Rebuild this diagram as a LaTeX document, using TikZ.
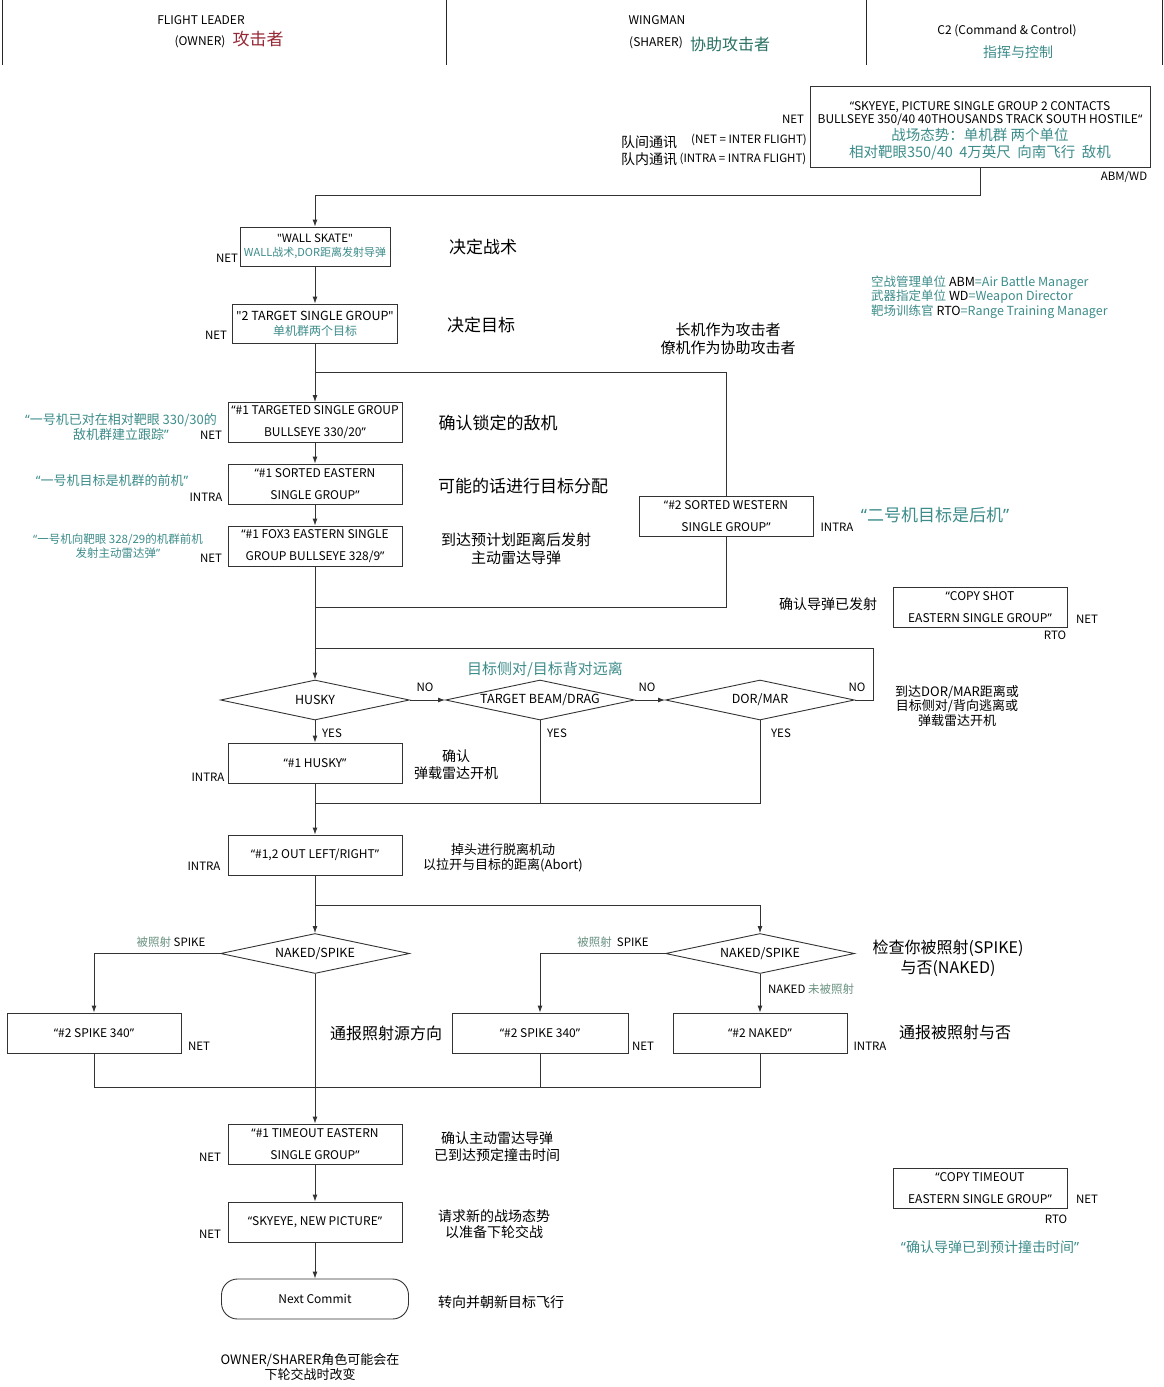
\documentclass[tikz,border=0pt]{standalone}
\usepackage{fontspec}
\setmainfont{Noto Sans CJK SC}
\newfontfamily\qfont{Noto Sans}
\usetikzlibrary{shapes.geometric,arrows.meta,positioning}
\definecolor{tealc}{RGB}{60,140,138}
\definecolor{sage}{RGB}{105,145,128}
\definecolor{ownred}{RGB}{150,40,52}
\definecolor{wingc}{RGB}{40,112,98}
\newcommand\qo{{\qfont “}}
\newcommand\qc{{\qfont ”}}
\newcommand\sq{{\qfont"}}

\begin{document}
\begin{tikzpicture}[x=1pt,y=-1pt]

\tikzset{>={Latex[length=7pt,width=5pt]}}
\tikzstyle{box} = [
	draw=black!80, line width=0.9pt, rectangle, inner sep=0pt,
	minimum width=174, minimum height=40, align=center,
	font=\fontsize{12}{22}\selectfont ];
\tikzstyle{dec} = [
	draw=black!80, line width=0.9pt, diamond, shape aspect=5, inner sep=0pt,
	minimum width=189, minimum height=40, font=\fontsize{12.5}{14}\selectfont ];
\tikzstyle{wire} = [draw=black!80, line width=0.9pt];
\tikzstyle{tagtxt} = [inner sep=0pt, font=\fontsize{11.5}{13}\selectfont];
\tikzstyle{hdtxt} = [inner sep=0pt, font=\fontsize{12}{14}\selectfont];
\tikzstyle{cnbig} = [inner sep=0pt, align=center, font=\fontsize{17}{20}\selectfont];
\tikzstyle{cnmid} = [inner sep=0pt, align=center, font=\fontsize{14}{17}\selectfont];
\tikzstyle{cnsml} = [inner sep=0pt, align=center, font=\fontsize{13}{15}\selectfont];
\tikzstyle{cnteal} = [cnsml, text=tealc];

\useasboundingbox (0,0) rectangle (1164,1387);

% lanes
\foreach \x in {2,446,866,1162}
	\draw[line width=0.8pt, black!85] (\x,0) -- (\x,65);
\node[hdtxt] (lead) at (201,20) {FLIGHT LEADER};
\node[hdtxt] (owner) at (200,42) {(OWNER)};
\node[hdtxt, text=ownred, font=\fontsize{17}{19}\selectfont] (ownercn) at (258,39) {攻击者};
\node[hdtxt] (wing) at (657,20) {WINGMAN};
\node[hdtxt] (sharer) at (656,43) {(SHARER)};
\node[hdtxt, text=wingc, font=\fontsize{16}{18}\selectfont] (sharercn) at (730,44) {协助攻击者};
\node[hdtxt] (ctrl) at (1007,31) {C2 (Command \& Control)};
\node[hdtxt, text=tealc, font=\fontsize{14}{16}\selectfont] (ctrlcn) at (1018,52) {指挥与控制};

% picture call
\node[box, minimum width=340, minimum height=81, font=\fontsize{12}{13}\selectfont] (sky) at (980,127)
	{\rule{0pt}{17pt}\qo SKYEYE, PICTURE SINGLE GROUP 2 CONTACTS\\
	 BULLSEYE 350/40 40THOUSANDS TRACK SOUTH HOSTILE\qo\\[1pt]
	 {\color{tealc}\fontsize{14.5}{17}\selectfont 战场态势：单机群 两个单位}\\[3pt]
	 {\color{tealc}\fontsize{14.5}{17}\selectfont 相对靶眼350/40\ \ 4万英尺\ \ 向南飞行\ \ 敌机}};
\node[tagtxt] (netsky) at (793,119) {NET};
\node[cnmid] (intercn) at (649,142) {队间通讯};
\node[tagtxt] (inter) at (749,140) {(NET = INTER FLIGHT)};
\node[cnmid] (intracn) at (649,159) {队内通讯};
\node[tagtxt] (intra) at (743,159) {(INTRA = INTRA FLIGHT)};
\node[tagtxt] (abmwd) at (1124,177) {ABM/WD};

\node[cnsml, text=tealc, anchor=west, font=\fontsize{12.5}{14}\selectfont] (leg1) at (871,283) {空战管理单位 {\color{black}ABM}=Air Battle Manager};
\node[cnsml, text=tealc, anchor=west, font=\fontsize{12.5}{14}\selectfont] (leg2) at (871,297) {武器指定单位 {\color{black}WD}=Weapon Director};
\node[cnsml, text=tealc, anchor=west, font=\fontsize{12.5}{14}\selectfont] (leg3) at (871,312) {靶场训练官 {\color{black}RTO}=Range Training Manager};

% tactic and targets
\coordinate (top) at (315,195);
\node[box, minimum width=150, minimum height=39, font=\fontsize{11.5}{14}\selectfont] (wall) at (315,246.5)
	{\sq WALL SKATE\sq\\{\color{tealc}\fontsize{11}{14}\selectfont WALL战术,DOR距离发射导弹}};
\node[tagtxt] (netwall) at (227,258) {NET};
\node[cnbig] (wallcn) at (483,247) {决定战术};

\node[box, minimum width=165, minimum height=39, font=\fontsize{12.5}{15}\selectfont] (tgt2) at (315,323.5)
	{\sq 2 TARGET SINGLE GROUP\sq\\{\color{tealc}\fontsize{12}{14}\selectfont 单机群两个目标}};
\node[tagtxt] (nettgt) at (216,335) {NET};
\node[cnbig] (tgtcn) at (481,325) {决定目标};
\node[cnmid, font=\fontsize{15}{18}\selectfont] (roles) at (728,339) {长机作为攻击者\\僚机作为协助攻击者};

\draw[wire,->] (sky) |- (top) -- (wall);
\draw[wire,->] (wall) -- (tgt2);

\coordinate (split) at (315,372);

\node[box] (tgtd) at (315,422.5) {\qo\#1 TARGETED SINGLE GROUP\\BULLSEYE 330/20\qc};
\node[tagtxt] (nettgtd) at (211,435) {NET};
\node[cnteal] (why1) at (121,427) {\qo 一号机已对在相对靶眼 330/30的\\敌机群建立跟踪\qc};
\node[cnbig] (tgtdcn) at (498,423) {确认锁定的敌机};

\node[box] (sortE) at (315,484) {\qo\#1 SORTED EASTERN\\SINGLE GROUP\qc};
\node[tagtxt] (intrasort) at (206,497) {INTRA};
\node[cnteal] (why2) at (112,481) {\qo 一号机目标是机群的前机\qc};
\node[cnbig] (sortcn) at (523,486) {可能的话进行目标分配};

\node[box] (fox) at (315,546) {\qo\#1 FOX3 EASTERN SINGLE\\GROUP BULLSEYE 328/9\qc};
\node[tagtxt] (netfox) at (211,558) {NET};
\node[cnteal, font=\fontsize{11.5}{14.5}\selectfont] (why3) at (118,546) {\qo 一号机向靶眼 328/29的机群前机\\发射主动雷达弹\qc};
\node[cnmid, font=\fontsize{15}{18}\selectfont] (foxcn) at (516,549) {到达预计划距离后发射\\主动雷达导弹};

\node[box] (sortW) at (726,516) {\qo\#2 SORTED WESTERN\\SINGLE GROUP\qc};
\node[tagtxt] (intrasortw) at (837,527) {INTRA};
\node[cnteal, font=\fontsize{17}{20}\selectfont] (why4) at (935,515) {\qo 二号机目标是后机\qc};

\node[box] (copyS) at (980,607) {\qo COPY SHOT\\EASTERN SINGLE GROUP\qc};
\node[tagtxt] (netcopy) at (1087,619) {NET};
\node[tagtxt] (rtocopy) at (1055,635) {RTO};
\node[cnmid] (copycn) at (828,604) {确认导弹已发射};

\draw[wire] (tgt2) -- (split) -| (sortW);
\draw[wire,->] (split) -- (tgtd);
\draw[wire,->] (tgtd) -- (sortE);
\draw[wire,->] (sortE) -- (fox);

% checks
\node[dec] (husky) at (315,700) {HUSKY};
\node[dec] (beam) at (540,700) {TARGET BEAM/DRAG};
\node[dec] (dor) at (760,700) {DOR/MAR};
\coordinate (mergeW) at (315,607);
\coordinate (loopL) at (315,648);
\coordinate (loopR) at (873,648);

\draw[wire,->] (fox) -- (husky);
\draw[wire] (sortW) |- (mergeW);
\draw[wire] (dor.east) -- (dor.east -| loopR) -- (loopR) -- (loopL);
\draw[wire,->] (husky) -- (beam);
\draw[wire,->] (beam) -- (dor);

\node[cnteal, font=\fontsize{15}{17}\selectfont] (aspect) at (545,669) {目标侧对/目标背对远离};
\node[tagtxt] (no1) at (425,687) {NO};
\node[tagtxt] (no2) at (647,687) {NO};
\node[tagtxt] (no3) at (857,687) {NO};
\node[cnsml, font=\fontsize{13}{14.5}\selectfont] (dorcn) at (957,706) {到达DOR/MAR距离或\\目标侧对/背向逃离或\\弹载雷达开机};
\node[tagtxt] (yes1) at (332,733) {YES};
\node[tagtxt] (yes2) at (557,733) {YES};
\node[tagtxt] (yes3) at (781,733) {YES};

\node[box] (hbox) at (315,763) {\qo\#1 HUSKY\qc};
\node[tagtxt] (intrahb) at (208,777) {INTRA};
\node[cnmid, font=\fontsize{14}{17}\selectfont] (hboxcn) at (456,765) {确认\\弹载雷达开机};
\coordinate (joinY) at (315,803);

\draw[wire,->] (husky) -- (hbox);
\draw[wire] (beam) |- (joinY);
\draw[wire] (dor) |- (joinY);

\node[box] (out) at (315,855) {\qo\#1,2 OUT LEFT/RIGHT\qc};
\node[tagtxt] (intraout) at (204,866) {INTRA};
\node[cnsml] (outcn) at (503,858) {掉头进行脱离机动\\以拉开与目标的距离(Abort)};
\draw[wire,->] (hbox) -- (out);

% spike check
\coordinate (splitB) at (315,905);
\node[dec] (nsL) at (315,953.5) {NAKED/SPIKE};
\node[dec] (nsR) at (760,953.5) {NAKED/SPIKE};
\node[box] (spL) at (94,1033) {\qo\#2 SPIKE 340\qc};
\node[box, minimum width=176] (spM) at (540,1033) {\qo\#2 SPIKE 340\qc};
\node[box] (naked) at (760,1033) {\qo\#2 NAKED\qc};
\coordinate (joinB) at (760,1087);

\draw[wire] (out) -- (splitB);
\draw[wire,->] (splitB) -| (nsR);
\draw[wire,->] (splitB) -- (nsL);
\draw[wire,->] (nsL) -| (spL);
\draw[wire,->] (nsR) -| (spM);
\draw[wire,->] (nsR) -- (naked);
\draw[wire] (spL) |- (joinB) -- (naked);
\draw[wire] (spM) -- (spM |- joinB);

\node[tagtxt] (spkL) at (171,942) {\textcolor{sage}{被照射} SPIKE};
\node[tagtxt] (spkR) at (613,942) {\textcolor{sage}{被照射}\ \ SPIKE};
\node[tagtxt] (nkd) at (811,989) {NAKED \textcolor{sage}{未被照射}};
\node[tagtxt] (netspL) at (199,1046) {NET};
\node[tagtxt] (netspM) at (643,1046) {NET};
\node[tagtxt] (intrank) at (870,1046) {INTRA};
\node[cnbig, font=\fontsize{16}{20}\selectfont] (spkcn) at (386,1033) {通报照射源方向};
\node[cnbig, font=\fontsize{16}{20}\selectfont] (chkcn) at (948,958) {检查你被照射(SPIKE)\\与否(NAKED)};
\node[cnbig, font=\fontsize{16}{20}\selectfont] (rptcn) at (955,1032) {通报被照射与否};

% timeout and next
\node[box] (tmo) at (315,1144) {\qo\#1 TIMEOUT EASTERN\\SINGLE GROUP\qc};
\node[tagtxt] (nettmo) at (210,1157) {NET};
\node[cnmid] (tmocn) at (497,1147) {确认主动雷达导弹\\已到达预定撞击时间};
\draw[wire,->] (nsL) -- (tmo);

\node[box] (newpic) at (315,1222) {\qo SKYEYE, NEW PICTURE\qc};
\node[tagtxt] (netnew) at (210,1234) {NET};
\node[cnmid, font=\fontsize{14}{16}\selectfont] (newcn) at (494,1224) {请求新的战场态势\\以准备下轮交战};

\node[box, rounded corners=16, minimum width=187] (commit) at (315,1299) {Next Commit};
\node[cnmid] (commitcn) at (501,1302) {转向并朝新目标飞行};
\node[cnsml] (rolecn) at (310,1367.5) {OWNER/SHARER角色可能会在\\下轮交战时改变};

\draw[wire,->] (tmo) -- (newpic);
\draw[wire,->] (newpic) -- (commit);

\node[box] (copyT) at (980,1188) {\qo COPY TIMEOUT\\EASTERN SINGLE GROUP\qc};
\node[tagtxt] (netcopyt) at (1087,1199) {NET};
\node[tagtxt] (rtocopyt) at (1056,1219) {RTO};
\node[cnteal, font=\fontsize{14}{16}\selectfont] (why5) at (990,1247) {\qo 确认导弹已到预计撞击时间\qc};

\end{tikzpicture}
\end{document}
